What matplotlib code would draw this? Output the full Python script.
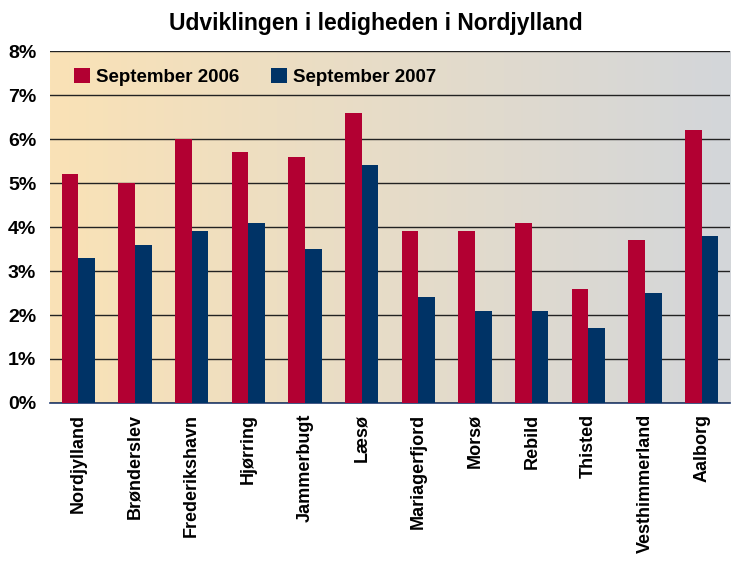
import matplotlib.pyplot as plt
import numpy as np

plt.rcParams['font.family'] = ['Liberation Sans', 'DejaVu Sans']

kommuner = ['Nordjylland', 'Brønderslev', 'Frederikshavn', 'Hjørring', 'Jammerbugt',
            'Læsø', 'Mariagerfjord', 'Morsø', 'Rebild', 'Thisted',
            'Vesthimmerland', 'Aalborg']
sep2006 = [5.2, 5.0, 6.0, 5.7, 5.6, 6.6, 3.9, 3.9, 4.1, 2.6, 3.7, 6.2]
sep2007 = [3.3, 3.6, 3.9, 4.1, 3.5, 5.4, 2.4, 2.1, 2.1, 1.7, 2.5, 3.8]

red = '#B20032'
blue = '#003366'

fig = plt.figure(figsize=(7.36, 5.62), dpi=100)
ax = fig.add_axes([0.068, 0.283, 0.924, 0.626])

# gradient background, orange on the left fading to grey on the right
c_left = np.array([0xFA, 0xE2, 0xB6]) / 255
c_right = np.array([0xD3, 0xD6, 0xDA]) / 255
t = np.linspace(0, 1, 256)[None, :, None]
grad = c_left * (1 - t) + c_right * t
ax.imshow(grad, extent=[-0.5, 11.5, 0, 8], aspect='auto', zorder=0)

x = np.arange(len(kommuner))
w = 0.295
ax.bar(x - w / 2, sep2006, w, color=red, label='September 2006', zorder=3)
ax.bar(x + w / 2, sep2007, w, color=blue, label='September 2007', zorder=3)

ax.set_xlim(-0.5, 11.5)
ax.set_ylim(0, 8)
ax.set_yticks(range(0, 9))
ax.set_yticklabels([f'{v}%' for v in range(0, 9)], fontsize=14, fontweight='bold')
ax.yaxis.grid(True, color='#222222', linewidth=1.0, zorder=1)
ax.set_axisbelow(False)
ax.tick_params(axis='y', length=0, pad=10)
ax.tick_params(axis='x', length=0, pad=8)
ax.set_xticks(x)
ax.set_xticklabels(kommuner, rotation=90, fontsize=13, fontweight='bold')

for s in ['left', 'right', 'top']:
    ax.spines[s].set_visible(False)
ax.spines['bottom'].set_color('#1F3A6E')
ax.spines['bottom'].set_linewidth(1.2)

ax.legend(loc='upper left', ncol=2, frameon=False,
          prop={'weight': 'bold', 'size': 13.5}, handlelength=0.85, handleheight=0.85,
          columnspacing=1.7, handletextpad=0.3, bbox_to_anchor=(0.011, 1.0))

fig.suptitle('Udviklingen i ledigheden i Nordjylland', fontsize=16.5, fontweight='bold',
             x=0.51, y=0.978)

fig.savefig('out.png', dpi=100)
